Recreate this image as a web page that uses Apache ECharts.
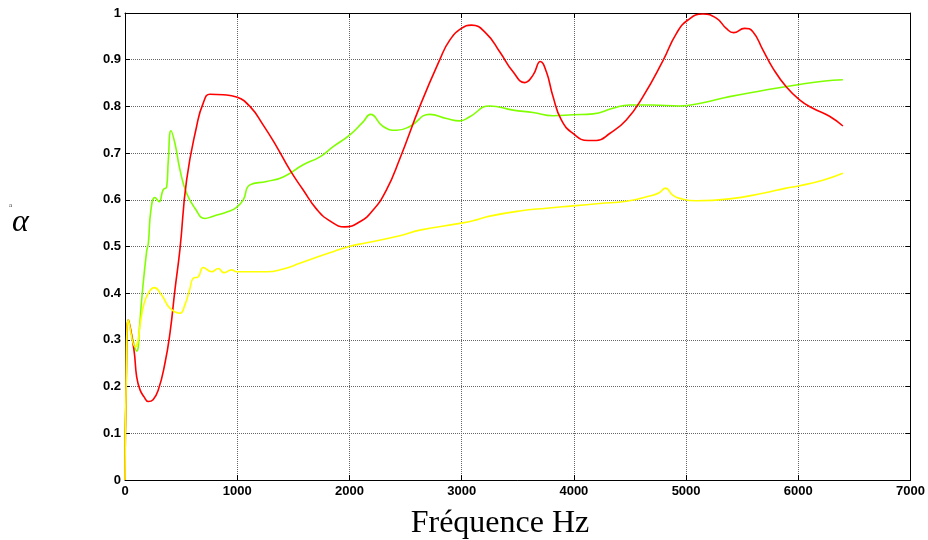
<!DOCTYPE html>
<html><head><meta charset="utf-8">
<script src="https://cdn.jsdelivr.net/npm/echarts@6/dist/echarts.min.js"></script>
<style>html,body{margin:0;padding:0;background:#fff}#c{width:928px;height:540px}</style>
</head><body><div id="c"></div>
<script>
const xTicks = [0,1000,2000,3000,4000,5000,6000,7000];
const yTicks = [0,0.1,0.2,0.3,0.4,0.5,0.6,0.7,0.8,0.9,1];

const redFreq = [0,10,30,80,104,134,170,208,250,297,356,401,445,490,549,638,697,757,875,994,1113,1232,1351,1469,1588,1707,1825,1959,2093,2211,2330,2449,2627,2805,2894,2998,3087,3220,3339,3458,3562,3636,3701,3755,3814,3888,3992,4126,4200,4319,4467,4616,4794,4913,5016,5150,5269,5358,5423,5521,5595,5684,5773,5892,6011,6129,6278,6397];
const redVal  = [0,0.2,0.343,0.278,0.221,0.193,0.178,0.168,0.172,0.193,0.25,0.315,0.407,0.495,0.642,0.757,0.807,0.826,0.825,0.82,0.80,0.76,0.714,0.664,0.621,0.58,0.555,0.542,0.553,0.578,0.621,0.688,0.80,0.90,0.942,0.967,0.974,0.956,0.917,0.874,0.851,0.867,0.896,0.874,0.821,0.771,0.742,0.727,0.727,0.742,0.771,0.821,0.898,0.956,0.985,0.998,0.989,0.967,0.958,0.967,0.96,0.921,0.882,0.842,0.814,0.796,0.779,0.758];

const greenFreq = [0,10,30,60,104,130,148,193,208,231,267,303,341,371,386,410,445,490,549,623,712,787,920,994,1054,1113,1262,1410,1588,1737,1855,2004,2122,2188,2300,2419,2538,2716,2865,2983,3072,3250,3458,3636,3814,3992,4170,4348,4497,4700,4942,5150,5387,5684,5981,6218,6397];
const greenVal  = [0,0.2,0.343,0.31,0.276,0.33,0.385,0.49,0.507,0.578,0.605,0.596,0.622,0.627,0.685,0.748,0.721,0.664,0.614,0.582,0.56,0.565,0.575,0.584,0.60,0.632,0.639,0.649,0.675,0.692,0.714,0.739,0.767,0.783,0.757,0.749,0.757,0.783,0.774,0.769,0.778,0.801,0.792,0.787,0.78,0.782,0.784,0.796,0.803,0.803,0.801,0.808,0.821,0.834,0.846,0.854,0.857];

const yellowFreq = [0,10,30,89,163,208,261,326,401,490,534,579,608,653,697,772,831,880,950,994,1113,1262,1410,1558,1707,1855,1997,2152,2449,2627,2998,3131,3250,3517,3755,3992,4230,4467,4675,4760,4817,4880,4942,5091,5387,5684,5892,6011,6218,6397];
const yellowVal  = [0,0.2,0.343,0.285,0.371,0.40,0.412,0.396,0.368,0.357,0.375,0.41,0.432,0.435,0.455,0.446,0.453,0.444,0.45,0.446,0.446,0.446,0.452,0.464,0.477,0.489,0.50,0.508,0.523,0.535,0.55,0.557,0.565,0.576,0.582,0.587,0.592,0.597,0.608,0.615,0.625,0.61,0.603,0.598,0.602,0.614,0.625,0.63,0.642,0.657];

const zip = (a,b) => a.map((v,i)=>[v,b[i]]);
const chart = echarts.init(document.getElementById('c'));
const lblFont = {fontFamily:'Liberation Sans, Arial', fontWeight:'bold', fontSize:13, color:'#000'};
const gridLine = {show:true, lineStyle:{color:'#666', type:'dotted', width:1}};
const axLine = {show:true, onZero:false, lineStyle:{color:'#000', width:1}};
const tick = {show:true, inside:true, length:5, lineStyle:{color:'#000'}};
function line(name, data, color){
  return {name, type:'line', data, symbol:'none', smooth:0.5,
    lineStyle:{color, width:1.6}, itemStyle:{color}, animation:false, z:3};
}
chart.setOption({
  animation:false,
  backgroundColor:'#fff',
  grid:{left:125, right:17, top:13, bottom:60},
  xAxis:[
    {type:'value', min:0, max:7000, interval:1000, position:'bottom',
     axisLine:axLine, axisTick:tick, splitLine:gridLine,
     axisLabel:Object.assign({margin:5, formatter:v=>xTicks.includes(v)?String(v):''}, lblFont)},
    {type:'value', min:0, max:7000, interval:1000, position:'top',
     axisLine:axLine, axisTick:tick, splitLine:{show:false}, axisLabel:{show:false}}
  ],
  yAxis:[
    {type:'value', min:0, max:1, interval:0.1, position:'left',
     axisLine:axLine, axisTick:tick, splitLine:gridLine,
     axisLabel:Object.assign({margin:4, formatter:v=>{const r=Math.round(v*10)/10; return yTicks.includes(r)?String(r):'';}}, lblFont)},
    {type:'value', min:0, max:1, interval:0.1, position:'right',
     axisLine:axLine, axisTick:tick, splitLine:{show:false}, axisLabel:{show:false}}
  ],
  graphic:[
    {type:'text', x:500, y:524, style:{text:'Fréquence Hz', fontFamily:'Liberation Serif, Times New Roman', fontSize:32, fill:'#000', align:'center', verticalAlign:'middle'}},
    {type:'text', left:9, top:202, style:{text:'a', fontFamily:'Liberation Serif', fontSize:7, fill:'#444'}},
    {type:'text', left:12, top:207, style:{text:'α', fontFamily:'Liberation Serif', fontStyle:'italic', fontSize:32, fill:'#000'}}
  ],
  series:[
    line('vert', zip(greenFreq, greenVal), '#80ff00'),
    line('rouge', zip(redFreq, redVal), '#ff0000'),
    line('jaune', zip(yellowFreq, yellowVal), '#ffff00')
  ]
});
</script></body></html>
